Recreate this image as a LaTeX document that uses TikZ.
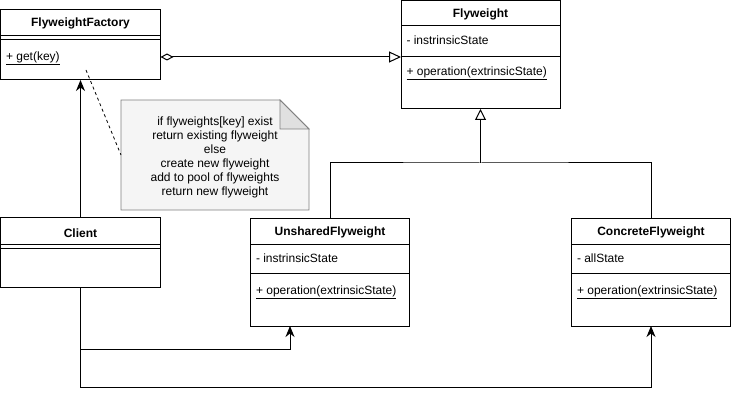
\documentclass[tikz,border=0pt]{standalone}
\usepackage{fontspec}
\setmainfont{Liberation Sans}
\usetikzlibrary{arrows.meta}
\begin{document}
\begin{tikzpicture}[x=1pt,y=-1pt, line width=1pt,
  box/.style={draw, anchor=north west, inner sep=0pt, outer sep=0pt, fill=white},
  ttl/.style={font=\fontsize{12}{14}\selectfont\bfseries, inner sep=0pt},
  txt/.style={font=\fontsize{12}{14}\selectfont, anchor=west, inner sep=0pt},
  inh/.style={-{Triangle[open,length=11pt,width=11pt,fill=white]}},
  use/.style={-{Stealth[length=11pt,width=9pt,inset=3.5pt]}},
  agg/.style={{Diamond[open,length=13pt,width=7pt,fill=white]}-{Triangle[open,length=12pt,width=11pt,fill=white]}},
]
\useasboundingbox (0,0) rectangle (731,401);

% FlyweightFactory
\node[box, minimum width=160pt, minimum height=70pt] (ff) at (0.5,10) {};
\node[ttl] (fft) at (80.5,23) {FlyweightFactory};
\draw (0.5,36) -- (160.5,36);
\draw (0.5,40) -- (160.5,40);
\node[txt] (ffo) at (5.5,58) {\underline{+ get(key)}};

% Flyweight
\node[box, minimum width=159pt, minimum height=108pt] (fw) at (401,1) {};
\node[ttl] (fwt) at (480.5,14) {Flyweight};
\draw (401,26) -- (560,26);
\node[txt] (fwa) at (406,40) {- instrinsicState};
\draw (401,57) -- (560,57);
\node[txt] (fwo) at (406,73) {\underline{+ operation(extrinsicState)}};

% Client
\node[box, minimum width=160pt, minimum height=70pt] (cl) at (0.5,217) {};
\node[ttl] (clt) at (80.5,233) {Client};
\draw (0.5,244) -- (160.5,244);
\draw (0.5,248) -- (160.5,248);

% UnsharedFlyweight
\node[box, minimum width=159pt, minimum height=108pt] (un) at (250.5,218) {};
\node[ttl] (unt) at (330,232) {UnsharedFlyweight};
\draw (250.5,244) -- (409.5,244);
\node[txt] (una) at (255.5,258) {- instrinsicState};
\draw (250.5,273) -- (409.5,273);
\node[txt] (uno) at (255.5,292) {\underline{+ operation(extrinsicState)}};

% ConcreteFlyweight
\node[box, minimum width=159pt, minimum height=108pt] (cf) at (571.5,218) {};
\node[ttl] (cft) at (651,232) {ConcreteFlyweight};
\draw (571.5,244) -- (730.5,244);
\node[txt] (cfa) at (576.5,258) {- allState};
\draw (571.5,273) -- (730.5,273);
\node[txt] (cfo) at (576.5,292) {\underline{+ operation(extrinsicState)}};

% Note
\draw[draw=black!50, fill=black!4, line width=0.8pt] (121,100) -- (280,100) -- (309,129) -- (309,210) -- (121,210) -- cycle;
\draw[draw=black!50, fill=black!12, line width=0.8pt] (280,100) -- (280,129) -- (309,129) -- cycle;
\node[font=\fontsize{12}{14}\selectfont, align=center, inner sep=0pt, text depth=0pt] (note) at (215,156)
  {if flyweights[key] exist\\return existing flyweight\\else\\create new flyweight\\add to pool of flyweights\\return new flyweight};
\coordinate (nw) at (121,155);
\coordinate (fa) at (86,70);
\draw[dashed, line width=0.8pt, dash pattern=on 3pt off 3pt] (fa) -- (nw);

% Aggregation
\draw[agg] ([yshift=-12pt]ff.east) -- ([yshift=-12pt]ff.east -| fw.west);

% Inheritance
\coordinate (j) at (480.5,163);
\draw[inh] (j) -- (fw.south);
\draw (un.north) |- (j) -| (cf.north);

% Client uses
\draw[use] (cl.north) -- (ff.south);
\draw[use] (cl.south) -- ++(0,62) -| ([xshift=-40pt]un.south);
\draw[use] (cl.south) -- ++(0,100) -| (cf.south);
\end{tikzpicture}
\end{document}
